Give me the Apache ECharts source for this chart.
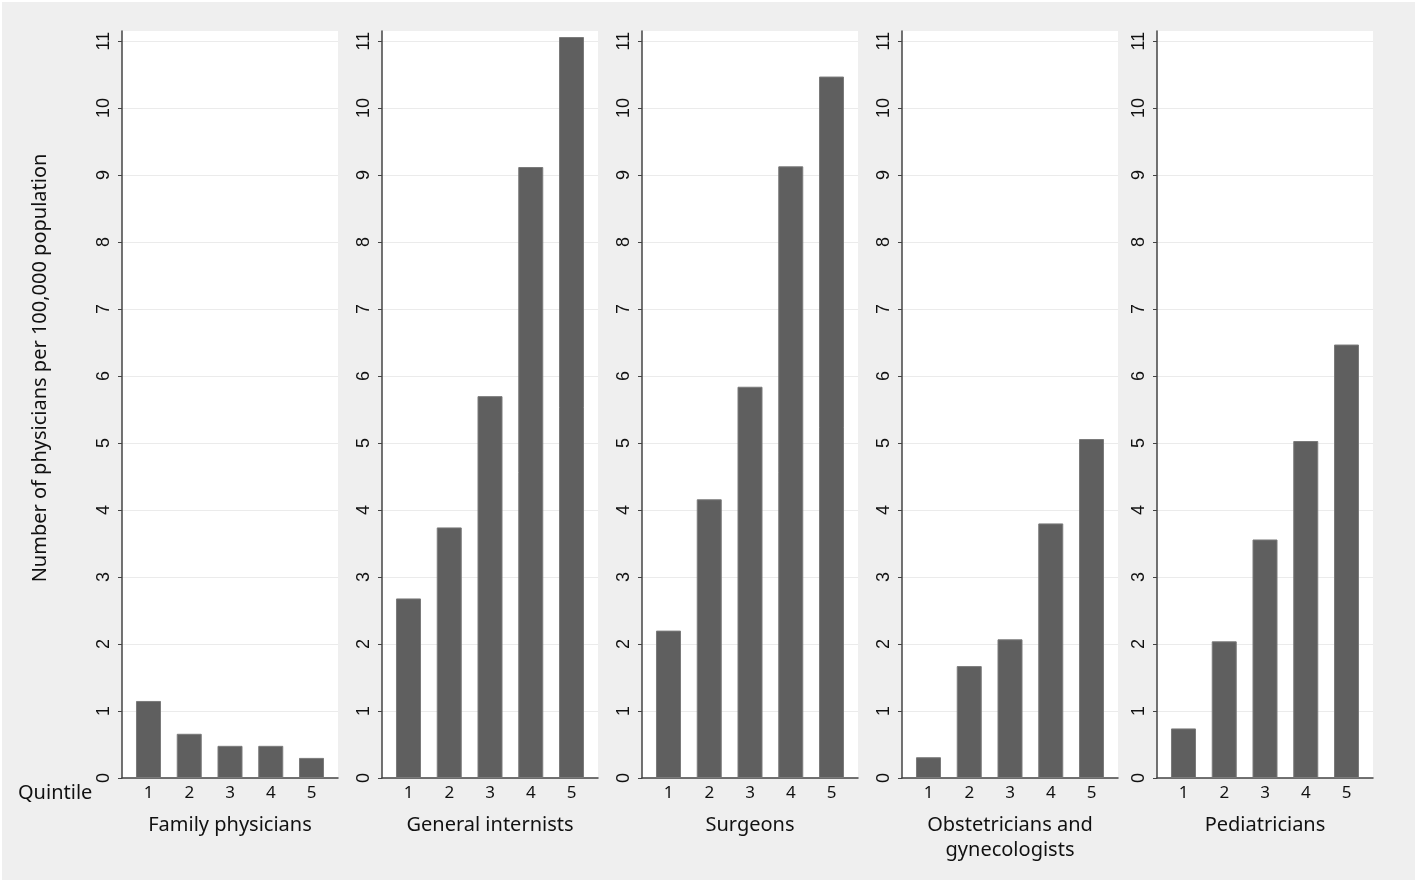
<!DOCTYPE html>
<html>
<head>
<meta charset="utf-8">
<script src="https://cdn.jsdelivr.net/npm/echarts@6/dist/echarts.min.js"></script>
<style>
  html, body { margin: 0; padding: 0; background: #fff; }
  #chart { position: absolute; left: 2px; top: 2px; width: 1413px; height: 878px; }
</style>
</head>
<body>
<div id="chart"></div>
<script>
// quintiles of the x axis
const quintiles = [1, 2, 3, 4, 5]
const yTicks = [0, 1, 2, 3, 4, 5, 6, 7, 8, 9, 10, 11]

const panelNames = [
  'Family physicians',
  'General internists',
  'Surgeons',
  'Obstetricians and\ngynecologists',
  'Pediatricians'
]

// physicians per 100,000 population, by quintile
const familyPhysicians = [1.15, 0.66, 0.48, 0.48, 0.30]
const generalInternists = [2.68, 3.74, 5.70, 9.12, 11.06]
const surgeons = [2.20, 4.16, 5.84, 9.13, 10.47]
const obstetricians = [0.31, 1.67, 2.07, 3.80, 5.06]
const pediatricians = [0.74, 2.04, 3.56, 5.03, 6.47]

const panelValues = [familyPhysicians, generalInternists, surgeons, obstetricians, pediatricians]

const chart = echarts.init(document.getElementById('chart'))

const panelLefts = [120, 380, 640, 900, 1155]
const axisColor = '#444'
const sansUI = '"Noto Sans", "Open Sans", sans-serif'
const sansNum = '"Liberation Sans", Arial, sans-serif'

const grids = panelLefts.map(left => ({
  left: left,
  top: 29,
  width: 216,
  height: 747,
  show: true,
  backgroundColor: '#fff',
  borderWidth: 0
}))

const xAxes = panelNames.map((name, i) => ({
  type: 'value',
  gridIndex: i,
  min: 0.35,
  max: 5.65,
  name: name,
  nameLocation: 'middle',
  nameGap: 35,
  nameTextStyle: { fontFamily: sansUI, fontSize: 20, color: '#111', lineHeight: 25 },
  axisLine: { show: true, onZero: false, lineStyle: { color: axisColor, width: 1.5 } },
  axisTick: { show: false },
  splitLine: { show: false },
  axisLabel: {
    customValues: quintiles,
    margin: 7,
    fontFamily: sansUI,
    fontSize: 17,
    color: '#111'
  }
}))

const yAxes = panelNames.map((name, i) => ({
  type: 'value',
  gridIndex: i,
  min: 0,
  max: 11.15,
  axisLine: { show: true, lineStyle: { color: axisColor, width: 1.5 } },
  axisTick: { show: true, customValues: yTicks, length: 4, lineStyle: { color: axisColor } },
  splitLine: { show: true, lineStyle: { color: '#ebebeb', width: 1 } },
  axisLabel: {
    customValues: yTicks,
    rotate: 90,
    margin: 9,
    fontFamily: sansNum,
    fontSize: 18,
    color: '#111'
  }
}))

const series = panelValues.map((vals, i) => ({
  type: 'bar',
  xAxisIndex: i,
  yAxisIndex: i,
  barWidth: 25,
  data: quintiles.map((q, j) => [q, vals[j]]),
  itemStyle: { color: '#5f5f5f', borderColor: '#7a7a7a', borderWidth: 1 },
  emphasis: { disabled: true }
}))

chart.setOption({
  backgroundColor: '#efefef',
  animation: false,
  grid: grids,
  xAxis: xAxes,
  yAxis: yAxes,
  series: series,
  graphic: [{
    type: 'text',
    left: 16,
    top: 781,
    style: { text: 'Quintile', fontFamily: sansUI, fontSize: 20, fill: '#111' }
  }, {
    type: 'text',
    x: 38,
    y: 366,
    rotation: Math.PI / 2,
    style: {
      text: 'Number of physicians per 100,000 population',
      fontFamily: sansUI,
      fontSize: 20,
      fill: '#111',
      align: 'center',
      verticalAlign: 'middle'
    }
  }]
})
</script>
</body>
</html>
